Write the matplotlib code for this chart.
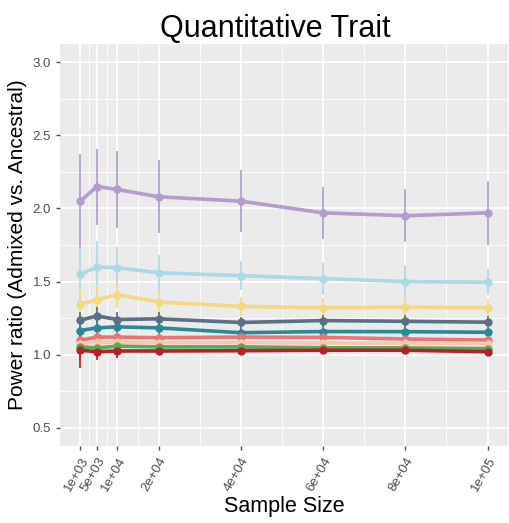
import matplotlib
matplotlib.use("Agg")
import matplotlib.pyplot as plt
import numpy as np

plt.rcParams['font.family'] = ['Liberation Sans', 'DejaVu Sans']

sample_sizes = [1000, 5000, 10000, 20000, 40000, 60000, 80000, 100000]
tick_labels = ["1e+03", "5e+03", "1e+04", "2e+04", "4e+04", "6e+04", "8e+04", "1e+05"]

# mean power ratio per group
purple_mean = [2.05, 2.15, 2.13, 2.08, 2.05, 1.97, 1.95, 1.97]
lightblue_mean = [1.55, 1.60, 1.595, 1.56, 1.54, 1.52, 1.50, 1.495]
yellow_mean = [1.345, 1.375, 1.41, 1.36, 1.33, 1.32, 1.325, 1.32]
slate_mean = [1.235, 1.265, 1.24, 1.245, 1.22, 1.233, 1.228, 1.222]
teal_mean = [1.165, 1.183, 1.19, 1.183, 1.15, 1.158, 1.157, 1.153]
salmon_mean = [1.098, 1.12, 1.12, 1.116, 1.12, 1.118, 1.107, 1.10]
peach_mean = [1.075, 1.085, 1.085, 1.083, 1.082, 1.08, 1.078, 1.075]
green_mean = [1.053, 1.046, 1.058, 1.053, 1.053, 1.047, 1.046, 1.041]
darkred_mean = [1.03, 1.02, 1.025, 1.025, 1.027, 1.03, 1.03, 1.02]

# error bar half-widths
purple_err = [0.32, 0.26, 0.265, 0.25, 0.21, 0.18, 0.18, 0.22]
lightblue_err = [0.18, 0.18, 0.14, 0.12, 0.10, 0.11, 0.11, 0.09]
yellow_err = [0.10, 0.10, 0.09, 0.08, 0.065, 0.065, 0.065, 0.06]
slate_err = [0.06, 0.06, 0.05, 0.05, 0.04, 0.04, 0.04, 0.04]
teal_err = [0.05, 0.05, 0.04, 0.04, 0.035, 0.035, 0.035, 0.03]
salmon_err = [0.04, 0.04, 0.035, 0.03, 0.03, 0.03, 0.03, 0.025]
peach_err = [0.05, 0.04, 0.035, 0.03, 0.025, 0.025, 0.025, 0.02]
green_err = [0.09, 0.06, 0.05, 0.03, 0.025, 0.025, 0.02, 0.02]
darkred_err = [0.12, 0.06, 0.045, 0.03, 0.025, 0.02, 0.02, 0.02]

groups = [
    (purple_mean, purple_err, "#B49CCB"),
    (lightblue_mean, lightblue_err, "#ADD8E6"),
    (yellow_mean, yellow_err, "#F2D982"),
    (slate_mean, slate_err, "#5B7083"),
    (teal_mean, teal_err, "#2C8897"),
    (salmon_mean, salmon_err, "#EA7474"),
    (peach_mean, peach_err, "#F3C9B2"),
    (green_mean, green_err, "#5EA84E"),
    (darkred_mean, darkred_err, "#B5202F"),
]

fig = plt.figure(figsize=(5.09, 5.23), dpi=100)
ax = fig.add_axes([60 / 509, 77 / 523, 448 / 509, 402 / 523])
ax.set_facecolor("#EBEBEB")

# gridlines: major at breaks, minor halfway between
x_minor = [(a + b) / 2 for a, b in zip(sample_sizes[:-1], sample_sizes[1:])]
y_major = [0.5, 1.0, 1.5, 2.0, 2.5, 3.0]
y_minor = [0.75, 1.25, 1.75, 2.25, 2.75]
for xv in x_minor:
    ax.axvline(xv, color="white", lw=0.6, zorder=0)
for xv in sample_sizes:
    ax.axvline(xv, color="white", lw=1.2, zorder=0)
for yv in y_minor:
    ax.axhline(yv, color="white", lw=0.6, zorder=0)
for yv in y_major:
    ax.axhline(yv, color="white", lw=1.2, zorder=0)

for mean, err, col in groups:
    lo = np.array(mean) - np.array(err)
    hi = np.array(mean) + np.array(err)
    ax.vlines(sample_sizes, lo, hi, color=col, lw=1.4, alpha=0.9, zorder=2)
for mean, err, col in groups:
    ax.plot(sample_sizes, mean, color=col, lw=2.6, zorder=3,
            marker="o", markersize=6, markeredgewidth=0)

ax.set_xlim(-3950, 104950)
ax.set_ylim(0.375, 3.125)
ax.set_xticks(sample_sizes)
ax.set_xticklabels(tick_labels, rotation=60, ha="right", rotation_mode="anchor")
ax.set_yticks(y_major)
ax.set_yticklabels(["0.5", "1.0", "1.5", "2.0", "2.5", "3.0"])
ax.tick_params(colors="#4D4D4D", labelcolor="#4D4D4D", labelsize=9.5,
               length=3, width=1)
for s in ax.spines.values():
    s.set_visible(False)

fig.text(275 / 509, 1 - 37 / 523, "Quantitative Trait", fontsize=22,
         ha="center", va="baseline")
ax.set_xlabel("Sample Size", fontsize=15.5, labelpad=2)
ax.set_ylabel("Power ratio (Admixed vs. Ancestral)", fontsize=15, labelpad=4)

fig.savefig("out.png", dpi=100)
